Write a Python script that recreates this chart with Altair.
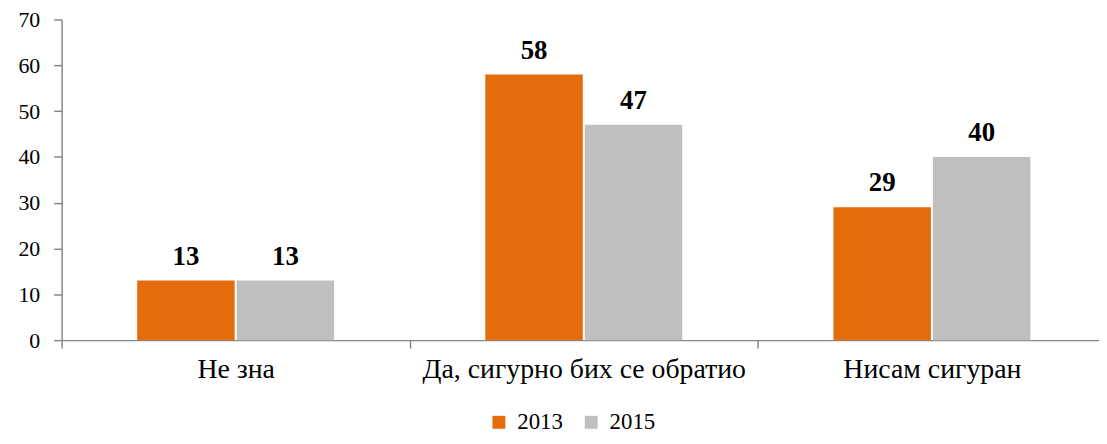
import altair as alt
import pandas as pd

categories = ["Не зна", "Да, сигурно бих се обратио", "Нисам сигуран"]
years = ["2013", "2015"]
values_2013 = [13, 58, 29]
values_2015 = [13, 47, 40]
colors = ["#E46C0A", "#BFBFBF"]

rows = []
for c, a, b in zip(categories, values_2013, values_2015):
    rows.append({"cat": c, "year": "2013", "value": a})
    rows.append({"cat": c, "year": "2015", "value": b})
df = pd.DataFrame(rows)

FONT = "Liberation Serif"

x = alt.X("cat:N", sort=categories, title=None,
          scale=alt.Scale(paddingInner=0, paddingOuter=0, range=[0, 1052]),
          axis=alt.Axis(labelAngle=0, tickBand="extent", tickSize=8, labelPadding=30,
                        labelBaseline="alphabetic", labelLimit=600,
                        labelFontSize=28, labelFont=FONT, labelColor="#000",
                        domainColor="#888", tickColor="#888", domainWidth=1.5, tickWidth=1.5))
xo = alt.XOffset("year:N", sort=years,
                 scale=alt.Scale(paddingInner=0.02, paddingOuter=0.76))
y = alt.Y("value:Q", title=None,
          scale=alt.Scale(domain=[0, 70], nice=False),
          axis=alt.Axis(values=[0, 10, 20, 30, 40, 50, 60, 70], grid=False, tickSize=8,
                        labelPadding=14, labelFontSize=22, labelFont=FONT, labelColor="#000",
                        domainColor="#888", tickColor="#888", domainWidth=1.5, tickWidth=1.5))
color = alt.Color("year:N", sort=years,
                  scale=alt.Scale(domain=years, range=colors),
                  legend=alt.Legend(title=None, orient="none", direction="horizontal",
                                    legendX=429, legendY=394, symbolType="square",
                                    symbolSize=169, symbolStrokeWidth=0, labelFontSize=23,
                                    labelFont=FONT, labelColor="#000", labelOffset=7,
                                    columnPadding=17))

bars = alt.Chart(df).mark_bar().encode(x=x, xOffset=xo, y=y, color=color)
labels = alt.Chart(df).mark_text(baseline="alphabetic", dy=-16, fontSize=27,
                                  fontWeight="bold", font=FONT, color="#000").encode(
    x=alt.X("cat:N", sort=categories), xOffset=alt.XOffset("year:N", sort=years),
    y="value:Q", text="value:Q")

chart = alt.layer(bars, labels).properties(
    width=1045, height=323,
    autosize=alt.AutoSizeParams(type="none"),
    padding={"left": 54, "top": 10, "right": 0, "bottom": 95},
).configure_view(stroke=None)

chart.save("out.html", embed_options={"renderer": "svg", "actions": False})
